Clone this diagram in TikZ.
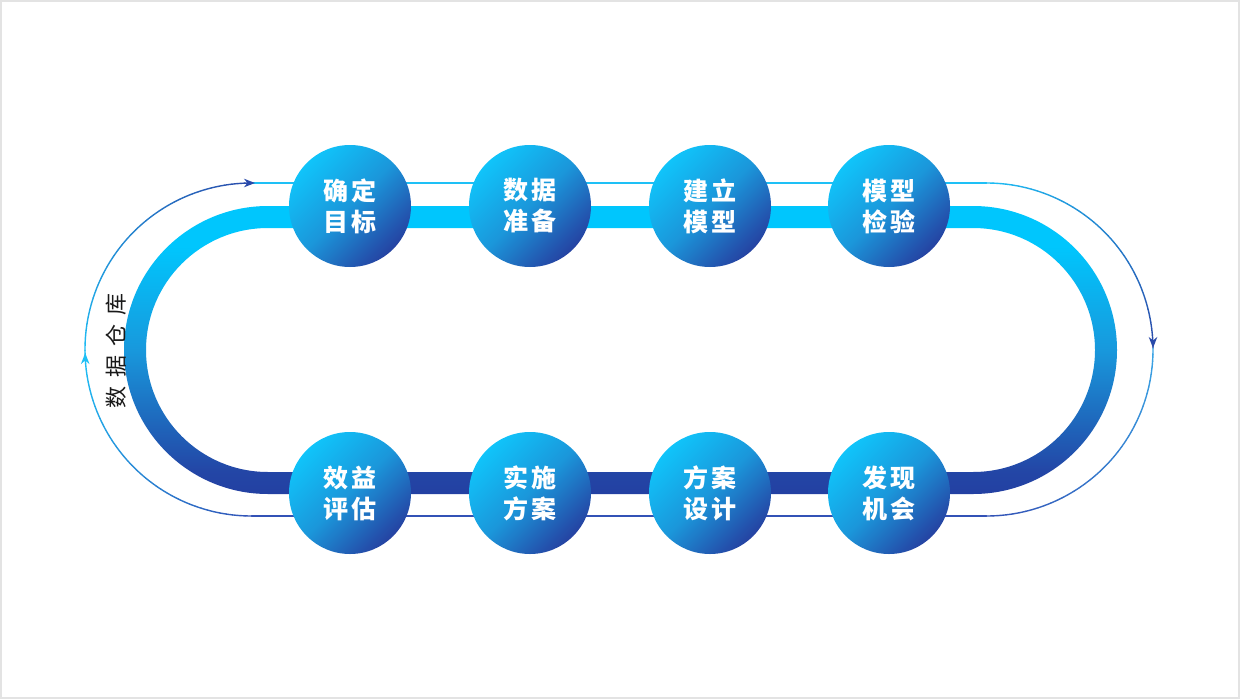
\documentclass[tikz,border=0pt]{standalone}
\usepackage{fontspec}
\newfontfamily\cjk{Noto Sans CJK SC}
\usetikzlibrary{arrows.meta}
\definecolor{tcyan}{HTML}{00C6FD}
\definecolor{tmid}{HTML}{1898DC}
\definecolor{tdark}{HTML}{2340A2}
\definecolor{tdarkb}{HTML}{2346A6}
\definecolor{blight}{HTML}{10C4FA}
\definecolor{bmid}{HTML}{1B96DA}
\definecolor{bdark}{HTML}{2542A2}
\definecolor{lcyan}{HTML}{1EC0F6}
\definecolor{ldark}{HTML}{2A4AAA}
\definecolor{lblue}{HTML}{3352B6}
\definecolor{llight}{HTML}{3AA6E6}
\pgfdeclareverticalshading{trackshade}{100bp}{color(0bp)=(tdark); color(25bp)=(tdark); color(29bp)=(tdarkb); color(50bp)=(tmid); color(68bp)=(tcyan); color(75bp)=(tcyan); color(100bp)=(tcyan)}
\pgfdeclareverticalshading{ballshade}{100bp}{color(0bp)=(bdark); color(25bp)=(bdark); color(50bp)=(bmid); color(75bp)=(blight); color(100bp)=(blight)}
\tikzset{
  loopline/.style={line width=1.4pt, line cap=round},
  tipline/.style={line width=1.4pt, -{Stealth[length=11pt,width=8.5pt,inset=3.5pt]}},
  ball/.style={circle, minimum size=122pt, inner sep=0pt, shade, shading=ballshade, shading angle=45,
    text=white, align=center, font=\cjk\bfseries\fontsize{25}{31}\selectfont},
}
\newcommand\mygradarc[8]{%
  \foreach \k in {1,...,#8}{%
    \pgfmathsetmacro\ta{#4+(#5-#4)*(\k-1)/#8}%
    \pgfmathsetmacro\tb{#4+(#5-#4)*\k/#8}%
    \pgfmathtruncatemacro\pc{100-100*(\k-0.5)/#8}%
    \draw[loopline, color=#6!\pc!#7] ({#1+#3*cos(\ta)},{#2+#3*sin(\ta)}) arc[start angle=\ta, end angle=\tb, radius=#3];
  }}
\begin{document}
\begin{tikzpicture}[x=1pt, y=-1pt]
\useasboundingbox (0,0) rectangle (1240,699);
\fill[white] (0,0) rectangle (1240,699);
\draw[gray!22, line width=2pt] (1,1) rectangle (1239,698);

% thin outer loop
\coordinate (tl) at (251.5,183);
\coordinate (tr) at (986.5,183);
\coordinate (bl) at (251.5,516);
\coordinate (br) at (986.5,516);
\draw[loopline, lcyan] (tl) -- (tr);
\draw[loopline, lblue] (br) -- (bl);
\mygradarc{251.5}{349.5}{166.5}{177.4}{270}{lcyan}{ldark}{40}
\mygradarc{986.5}{349.5}{166.5}{-90}{-0.5}{lcyan}{ldark}{40}
\mygradarc{986.5}{349.5}{166.5}{-0.5}{90}{llight}{lblue}{40}
\mygradarc{251.5}{349.5}{166.5}{90}{177.4}{lblue}{lcyan}{40}

% arrow tips
\coordinate (a1s) at (247,183);   \coordinate (a1e) at (255,183);
\coordinate (a2s) at (1153,340);  \coordinate (a2e) at (1153,348);
\coordinate (a3s) at (85.2,361);  \coordinate (a3e) at (85.2,353);
\draw[tipline, ldark] (a1s) -- (a1e);
\draw[tipline, ldark] (a2s) -- (a2e);
\draw[tipline, lcyan] (a3s) -- (a3e);

% thick track
\shade[shading=trackshade, even odd rule]
  (268,206) -- (973,206) arc[start angle=-90, end angle=90, radius=144]
  -- (268,494) arc[start angle=90, end angle=270, radius=144] -- cycle
  (268,228) -- (973,228) arc[start angle=-90, end angle=90, radius=122]
  -- (268,472) arc[start angle=90, end angle=270, radius=122] -- cycle;

% label
\node[rotate=90, font=\cjk\fontsize{22}{26}\selectfont, text=black!90] (lbl) at (116,351)
  {数\hspace{9pt}据\hspace{9pt}仓\hspace{9pt}库};

% circles
\node[ball] (c1) at (350,206) {确\hspace{3pt}定\\目\hspace{3pt}标};
\node[ball] (c2) at (530,206) {数\hspace{3pt}据\\准\hspace{3pt}备};
\node[ball] (c3) at (710,206) {建\hspace{3pt}立\\模\hspace{3pt}型};
\node[ball] (c4) at (889,206) {模\hspace{3pt}型\\检\hspace{3pt}验};
\node[ball] (c5) at (350,493) {效\hspace{3pt}益\\评\hspace{3pt}估};
\node[ball] (c6) at (530,493) {实\hspace{3pt}施\\方\hspace{3pt}案};
\node[ball] (c7) at (710,493) {方\hspace{3pt}案\\设\hspace{3pt}计};
\node[ball] (c8) at (889,493) {发\hspace{3pt}现\\机\hspace{3pt}会};
\end{tikzpicture}
\end{document}
